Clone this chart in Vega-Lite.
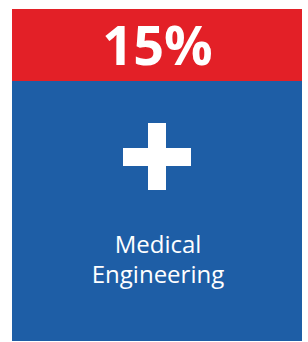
{
  "$schema": "https://vega.github.io/schema/vega-lite/v6.json",
  "width": 308,
  "height": 342,
  "autosize": {"type": "fit", "contains": "padding"},
  "padding": 0,
  "background": "white",
  "config": {"view": {"stroke": null}},
  "datasets": {
    "shapes": [
      {"part": "top", "x": 12, "x2": 302, "y": 9, "y2": 81},
      {"part": "body", "x": 12, "x2": 302, "y": 81, "y2": 341},
      {"part": "plus", "x": 148, "x2": 166, "y": 123, "y2": 190},
      {"part": "plus", "x": 123, "x2": 191, "y": 148, "y2": 166}
    ],
    "labels": [
      {"label": "15%", "kind": "value", "x": 157.5, "y": 65},
      {"label": "Medical", "kind": "name", "x": 158, "y": 253},
      {"label": "Engineering", "kind": "name", "x": 158, "y": 283}
    ]
  },
  "layer": [
    {
      "data": {"name": "shapes"},
      "mark": {"type": "rect"},
      "encoding": {
        "x": {"field": "x", "type": "quantitative", "scale": {"domain": [0, 308], "nice": false, "zero": false}, "axis": null},
        "x2": {"field": "x2"},
        "y": {"field": "y", "type": "quantitative", "scale": {"domain": [342, 0], "nice": false, "zero": false}, "axis": null},
        "y2": {"field": "y2"},
        "color": {"field": "part", "type": "nominal", "scale": {"domain": ["top", "body", "plus"], "range": ["#E32027", "#1E5EA6", "#FFFFFF"]}, "legend": null}
      }
    },
    {
      "data": {"name": "labels"},
      "transform": [{"filter": "datum.kind == 'value'"}],
      "mark": {"type": "text", "font": "Open Sans", "fontWeight": "bold", "fontSize": 54, "color": "white", "align": "center", "baseline": "alphabetic"},
      "encoding": {
        "x": {"field": "x", "type": "quantitative", "scale": {"domain": [0, 308], "nice": false, "zero": false}, "axis": null},
        "y": {"field": "y", "type": "quantitative", "scale": {"domain": [342, 0], "nice": false, "zero": false}, "axis": null},
        "text": {"field": "label"}
      }
    },
    {
      "data": {"name": "labels"},
      "transform": [{"filter": "datum.kind == 'name'"}],
      "mark": {"type": "text", "font": "Open Sans", "fontWeight": 500, "fontSize": 24, "color": "white", "align": "center", "baseline": "alphabetic"},
      "encoding": {
        "x": {"field": "x", "type": "quantitative", "scale": {"domain": [0, 308], "nice": false, "zero": false}, "axis": null},
        "y": {"field": "y", "type": "quantitative", "scale": {"domain": [342, 0], "nice": false, "zero": false}, "axis": null},
        "text": {"field": "label"}
      }
    }
  ]
}
